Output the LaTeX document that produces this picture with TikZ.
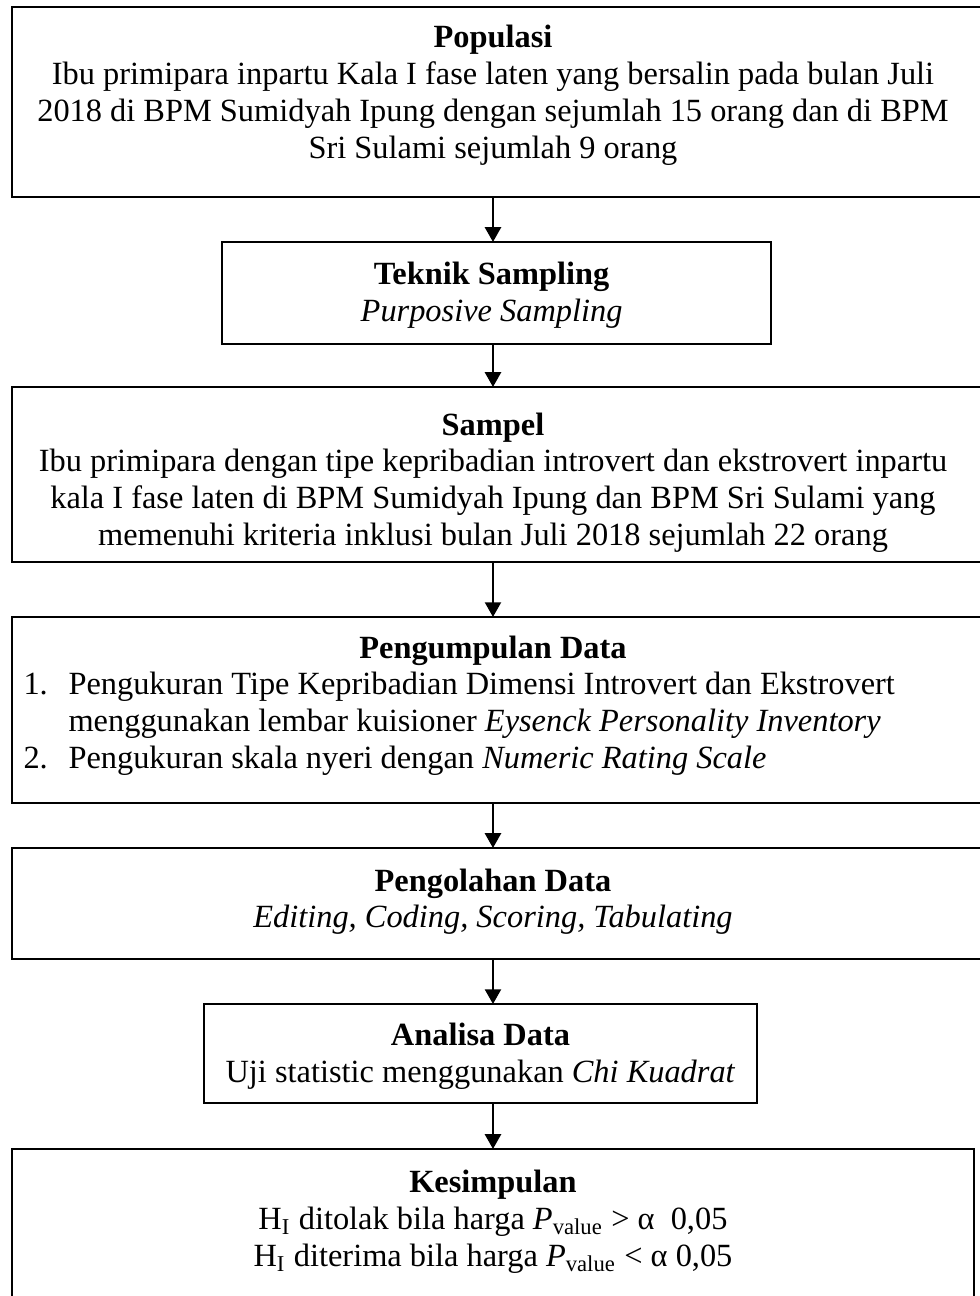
\documentclass[tikz,border=0pt]{standalone}
\usepackage{fontspec}
\setmainfont{Liberation Serif}
\usetikzlibrary{arrows.meta}

\tikzset{
  frame/.style={draw, rectangle, line width=0.8pt, inner sep=0pt, outer sep=0pt},
  txt/.style={align=center, inner sep=0pt, anchor=north,
    font=\fontsize{12.1}{13.8}\selectfont},
  arr/.style={-{Triangle[length=5.5pt,width=6pt]}, line width=0.8pt},
}
\newcommand{\itemhang}[1]{\makebox[0.591cm][l]{#1}}

\begin{document}
\begin{tikzpicture}

        \useasboundingbox (0,0) rectangle (12.867,-17.017);
        \clip (0,0) rectangle (12.867,-17.017);

        \coordinate (ax) at (6.473,0);

        \begin{scope}[every node/.style={frame}]
          \node[minimum width=12.972cm, minimum height=2.495cm] (1) at (6.644,-1.340)  {};
          \node[minimum width=7.208cm,  minimum height=1.340cm] (2) at (6.519,-3.847)  {};
          \node[minimum width=12.972cm, minimum height=2.298cm] (3) at (6.644,-6.230)  {};
          \node[minimum width=12.972cm, minimum height=2.442cm] (4) at (6.644,-9.322)  {};
          \node[minimum width=12.972cm, minimum height=1.458cm] (5) at (6.644,-11.863) {};
          \node[minimum width=7.260cm,  minimum height=1.300cm] (6) at (6.309,-13.833) {};
          \node[minimum width=12.631cm, minimum height=2.244cm] (7) at (6.473,-16.208) {};
        \end{scope}

        \begin{scope}[every node/.style={txt}]
          \node (t1) at (6.473,-0.328) {\textbf{Populasi}\\
            Ibu primipara inpartu Kala I fase laten yang bersalin pada bulan Juli\\
            2018 di BPM Sumidyah Ipung dengan sejumlah 15 orang dan di BPM\\
            Sri Sulami sejumlah 9 orang};
          \node (t2) at (6.455,-3.440) {\textbf{Teknik Sampling}\\ \textit{Purposive Sampling}};
          \node (t3) at (6.473,-5.410) {\textbf{Sampel}\\
            Ibu primipara dengan tipe kepribadian introvert dan ekstrovert inpartu\\
            kala I fase laten di BPM Sumidyah Ipung dan BPM Sri Sulami yang\\
            memenuhi kriteria inklusi bulan Juli 2018 sejumlah 22 orang};
          \node (t4) at (6.473,-8.338) {\textbf{Pengumpulan Data}};
          \node[align=left, anchor=north west] (t4b) at (0.302,-8.823) {%
            \itemhang{1.}Pengukuran Tipe Kepribadian Dimensi Introvert dan Ekstrovert\\
            \itemhang{}menggunakan lembar kuisioner \textit{Eysenck Personality Inventory}\\
            \itemhang{2.}Pengukuran skala nyeri dengan \textit{Numeric Rating Scale}};
          \node (t5) at (6.473,-11.397) {\textbf{Pengolahan Data}\\
            \textit{Editing, Coding, Scoring, Tabulating}};
          \node (t6) at (6.309,-13.432) {\textbf{Analisa Data}\\
            Uji statistic menggunakan \textit{Chi Kuadrat}};
          \node (t7) at (6.473,-15.362) {\textbf{Kesimpulan}\\
            H\textsubscript{I} ditolak bila harga \textit{P}\textsubscript{value} > α\ \ 0,05\\
            H\textsubscript{I} diterima bila harga \textit{P}\textsubscript{value} < α 0,05};
        \end{scope}

        \foreach \a/\b in {1/2, 2/3, 3/4, 4/5, 5/6, 6/7}
          \draw[arr] (\a.south -| ax) -- (\b.north -| ax);

      \end{tikzpicture}
\end{document}
